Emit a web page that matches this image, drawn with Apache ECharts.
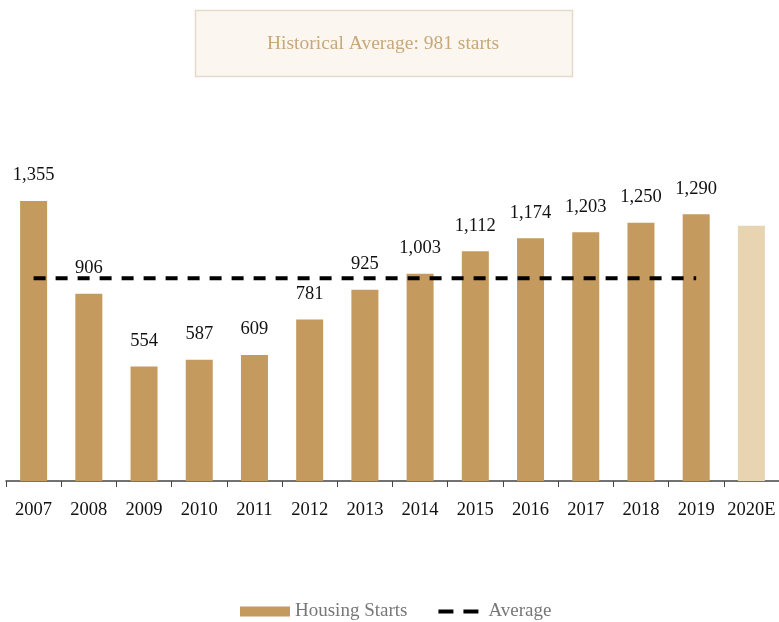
<!DOCTYPE html>
<html><head><meta charset="utf-8">
<script src="https://cdn.jsdelivr.net/npm/echarts@6/dist/echarts.min.js"></script>
<style>html,body{margin:0;padding:0;background:#fff}#c{width:779px;height:622px}</style>
</head><body><div id="c"></div>
<script>
const categories = ['2007','2008','2009','2010','2011','2012','2013','2014','2015','2016','2017','2018','2019','2020E'];
const housingStarts = [1355, 906, 554, 587, 609, 781, 925, 1003, 1112, 1174, 1203, 1250, 1290, 1235];
const averageValues = [981, 981, 981, 981, 981, 981, 981, 981, 981, 981, 981, 981, 981, null];
const titleText = 'Historical Average: 981 starts';

const font = '"Liberation Serif", "DejaVu Serif", serif';
const dashIcon = 'path://M0,0h0.01v0.01h-0.01z M5,3h15v4h-15z M30,3h15v4h-15z M49.99,9.99h0.01v0.01h-0.01z';
const chart = echarts.init(document.getElementById('c'));
chart.setOption({
  animation: false,
  graphic: [
    { type: 'rect', shape: { x: 195.5, y: 10.5, width: 377, height: 66 },
      style: { fill: '#fbf6ef', stroke: '#e6dac8', lineWidth: 1.5 } },
    { type: 'text', x: 383, y: 44,
      style: { text: titleText, fill: '#c7a878', font: '19.5px ' + font, align: 'center', verticalAlign: 'middle' } }
  ],
  grid: { left: 6, width: 776, top: 67.6, bottom: 141 },
  legend: {
    top: 597, left: 235, itemWidth: 50, itemHeight: 10, itemGap: 26,
    textStyle: { fontFamily: font, fontSize: 19, color: '#777' },
    data: [
      { name: 'Housing Starts', icon: 'rect', itemStyle: { color: '#c49a5e' } },
      { name: 'Average', icon: dashIcon, itemStyle: { color: '#000', borderWidth: 0 }, lineStyle: { width: 0, opacity: 0 } }
    ]
  },
  xAxis: {
    type: 'category', data: categories,
    axisLine: { lineStyle: { color: '#444', width: 1.5 } },
    axisTick: { show: true, length: 6, lineStyle: { color: '#444' } },
    axisLabel: { fontFamily: font, fontSize: 18.5, color: '#111', margin: 20, interval: 0 }
  },
  yAxis: { type: 'value', min: 0, max: 2000, show: false, splitLine: { show: false } },
  series: [
    {
      name: 'Housing Starts', type: 'bar', barWidth: 27,
      data: housingStarts.map((v, i) => ({
        value: v,
        itemStyle: { color: i === housingStarts.length - 1 ? '#e9d4b2' : '#c49a5e' },
        label: { show: i !== housingStarts.length - 1 }
      })),
      label: {
        show: true, position: 'top', distance: 16,
        fontFamily: font, fontSize: 18.5, color: '#111',
        formatter: p => p.value.toLocaleString('en-US')
      }
    },
    {
      name: 'Average', type: 'line', data: averageValues, symbol: 'none',
      z: 5,
      lineStyle: { color: '#000', width: 4, type: [12, 10] },
      itemStyle: { color: '#000' }
    }
  ]
});
</script></body></html>
